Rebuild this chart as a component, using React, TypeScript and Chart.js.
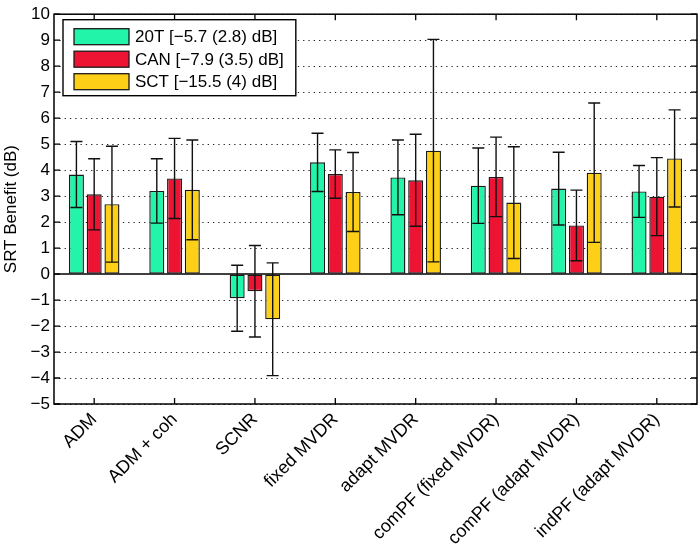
import React, { useEffect, useRef } from "react";
import { Chart, registerables } from "chart.js";

Chart.register(...registerables);

const categories = [
  "ADM",
  "ADM + coh",
  "SCNR",
  "fixed MVDR",
  "adapt MVDR",
  "comPF (fixed MVDR)",
  "comPF (adapt MVDR)",
  "indPF (adapt MVDR)",
];

const seriesLabels = ["20T [\u22125.7 (2.8) dB]", "CAN [\u22127.9 (3.5) dB]", "SCT [\u221215.5 (4) dB]"];

const mean20T = [3.83, 3.2, -0.93, 4.3, 3.72, 3.4, 3.29, 3.18];
const err20T = [1.27, 1.24, 1.27, 1.12, 1.44, 1.45, 1.4, 1.0];
const meanCAN = [3.07, 3.68, -0.66, 3.85, 3.61, 3.74, 1.87, 2.98];
const errCAN = [1.37, 1.54, 1.76, 0.93, 1.77, 1.53, 1.36, 1.5];
const meanSCT = [2.69, 3.24, -1.74, 3.16, 4.75, 2.75, 3.9, 4.45];
const errSCT = [2.23, 1.92, 2.17, 1.52, 4.28, 2.15, 2.68, 1.87];

const yMin = -5;
const yMax = 10;

const colors = ["#22F5AA", "#EC1333", "#FDD017"];
const FONT = '"Liberation Sans", Arial, Helvetica, sans-serif';

const overlayPlugin = {
  id: "overlay",
  afterDatasetsDraw(chart: any) {
    const ctx = chart.ctx;
    const ca = chart.chartArea;
    const xs = chart.scales.x;
    const ys = chart.scales.y;
    ctx.save();

    // zero line
    const y0 = ys.getPixelForValue(0);
    ctx.strokeStyle = "#000";
    ctx.lineWidth = 1.4;
    ctx.beginPath();
    ctx.moveTo(ca.left, y0);
    ctx.lineTo(ca.right, y0);
    ctx.stroke();

    // error bars
    ctx.lineWidth = 1.4;
    ctx.strokeStyle = "#111";
    chart.data.datasets.forEach((ds: any, di: number) => {
      const meta = chart.getDatasetMeta(di);
      meta.data.forEach((el: any, j: number) => {
        const v = ds.data[j];
        const e = ds.errors[j];
        const x = el.x;
        const yt = ys.getPixelForValue(v + e);
        const yb = ys.getPixelForValue(v - e);
        const cap = 6;
        ctx.beginPath();
        ctx.moveTo(x, yt);
        ctx.lineTo(x, yb);
        ctx.moveTo(x - cap, yt);
        ctx.lineTo(x + cap, yt);
        ctx.moveTo(x - cap, yb);
        ctx.lineTo(x + cap, yb);
        ctx.stroke();
      });
    });

    // inward tick marks
    ctx.strokeStyle = "#000";
    ctx.lineWidth = 1.3;
    const tl = 6;
    ctx.beginPath();
    xs.ticks.forEach((_: any, i: number) => {
      const x = xs.getPixelForTick(i);
      ctx.moveTo(x, ca.bottom);
      ctx.lineTo(x, ca.bottom - tl);
      ctx.moveTo(x, ca.top);
      ctx.lineTo(x, ca.top + tl);
    });
    ys.ticks.forEach((t: any) => {
      const y = ys.getPixelForValue(t.value);
      ctx.moveTo(ca.left, y);
      ctx.lineTo(ca.left + tl, y);
      ctx.moveTo(ca.right, y);
      ctx.lineTo(ca.right - tl, y);
    });
    ctx.stroke();

    // frame
    ctx.lineWidth = 1.5;
    ctx.strokeRect(ca.left, ca.top, ca.right - ca.left, ca.bottom - ca.top);

    // legend
    ctx.font = "17px " + FONT;
    const boxLeft = ca.left + 9;
    const boxTop = ca.top + 5.5;
    const swL = boxLeft + 11;
    const swW = 55;
    const swH = 16;
    const pitch = 22.5;
    const textX = swL + swW + 6;
    let maxW = 0;
    chart.data.datasets.forEach((ds: any) => {
      maxW = Math.max(maxW, ctx.measureText(ds.label).width);
    });
    const boxW = textX + maxW + 12 - boxLeft;
    const boxH = 76;
    ctx.fillStyle = "#fff";
    ctx.fillRect(boxLeft, boxTop, boxW, boxH);
    ctx.lineWidth = 1.4;
    ctx.strokeStyle = "#000";
    ctx.strokeRect(boxLeft, boxTop, boxW, boxH);
    chart.data.datasets.forEach((ds: any, i: number) => {
      const cy = boxTop + 17 + i * pitch;
      ctx.fillStyle = ds.backgroundColor;
      ctx.fillRect(swL, cy - swH / 2, swW, swH);
      ctx.lineWidth = 1.3;
      ctx.strokeStyle = "#1a1a1a";
      ctx.strokeRect(swL, cy - swH / 2, swW, swH);
      ctx.fillStyle = "#000";
      ctx.textAlign = "left";
      ctx.textBaseline = "middle";
      ctx.fillText(ds.label, textX, cy + 1);
    });

    ctx.restore();
  },
};

export default function App() {
  const canvasRef = useRef<HTMLCanvasElement | null>(null);

  useEffect(() => {
    const canvas = canvasRef.current;
    if (!canvas) return;
    const means = [mean20T, meanCAN, meanSCT];
    const errs = [err20T, errCAN, errSCT];
    const chart = new Chart(canvas, {
      type: "bar",
      data: {
        labels: categories,
        datasets: seriesLabels.map((label, i) => ({
          label,
          data: means[i],
          errors: errs[i],
          backgroundColor: colors[i],
          borderColor: "#1a1a1a",
          borderWidth: 1.4,
          borderSkipped: false,
          categoryPercentage: 0.663,
          barPercentage: 0.845,
        })) as any,
      },
      options: {
        animation: false,
        responsive: false,
        devicePixelRatio: 1,
        layout: { padding: { top: 8, right: 3, left: 0, bottom: 0 } },
        plugins: {
          legend: { display: false },
          tooltip: { enabled: false },
        },
        scales: {
          x: {
            grid: { display: false, drawTicks: false },
            border: { display: false },
            ticks: {
              autoSkip: false,
              minRotation: 45,
              maxRotation: 45,
              padding: 5,
              color: "#000",
              font: { family: FONT, size: 18 },
            },
            afterFit: (scale: any) => {
              scale.height = 143;
            },
          },
          y: {
            min: yMin,
            max: yMax,
            grid: {
              drawTicks: false,
              lineWidth: 1,
              color: (c: any) => (c.tick && c.tick.value === 0 ? "rgba(0,0,0,0)" : "#222"),
            },
            border: { display: false, dash: [1.3, 4] },
            ticks: {
              stepSize: 1,
              padding: 4,
              color: "#000",
              font: { family: FONT, size: 17 },
              callback: (v: any) => (Number(v) < 0 ? "\u2212" + Math.abs(Number(v)) : String(v)),
            },
            title: {
              display: true,
              text: "SRT Benefit (dB)",
              color: "#000",
              font: { family: FONT, size: 17 },
              padding: { top: 1, bottom: 0 },
            },
            afterFit: (scale: any) => {
              scale.width = 54;
            },
          },
        },
      } as any,
      plugins: [overlayPlugin],
    });
    return () => chart.destroy();
  }, []);

  return (
    <div style={{ position: "absolute", left: 0, top: 0, width: 700, height: 547, background: "#fff" }}>
      <canvas ref={canvasRef} width={700} height={547} style={{ display: "block" }} />
    </div>
  );
}
